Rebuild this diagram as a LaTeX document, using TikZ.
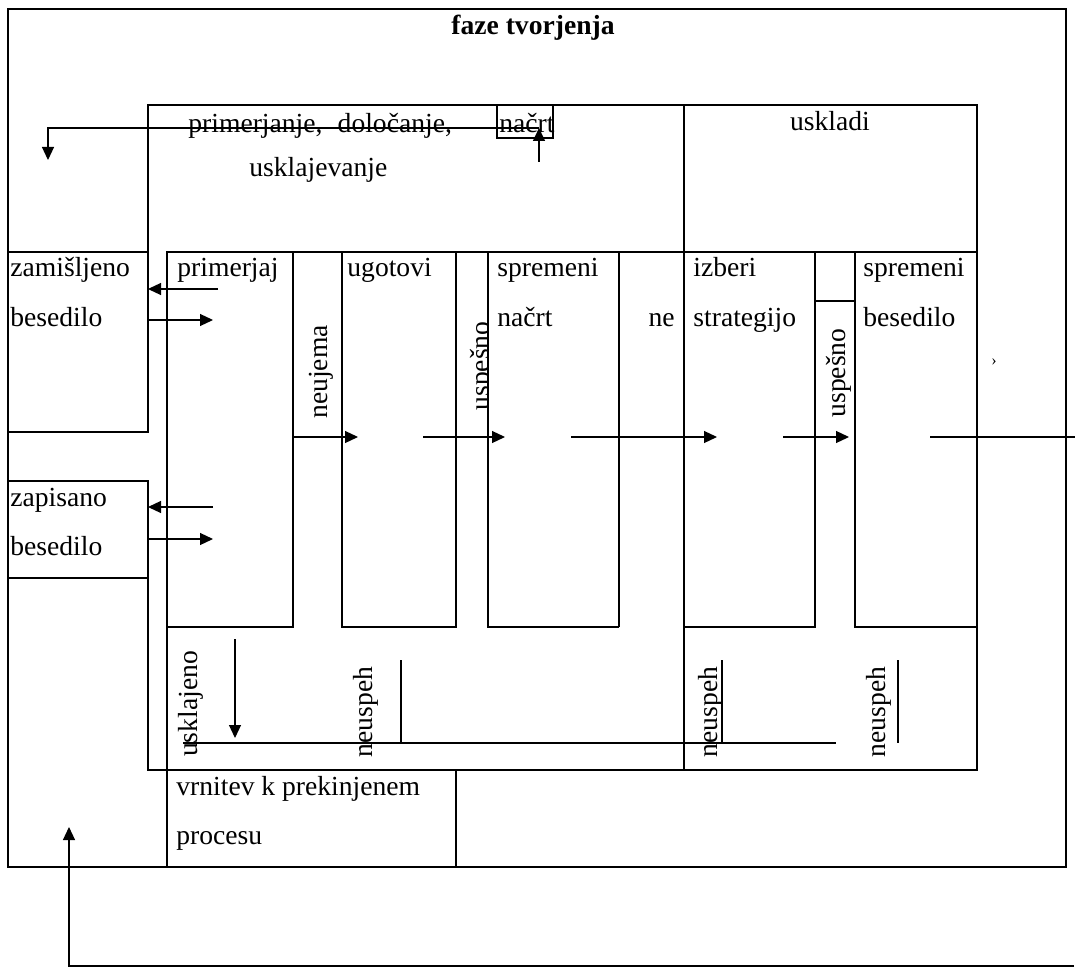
\documentclass[tikz,border=0pt]{standalone}
\usepackage{fontspec}
\setmainfont{Liberation Serif}
\usetikzlibrary{arrows.meta,fit}
\begin{document}
\begin{tikzpicture}[x=0.5pt,y=-0.5pt,
  frame/.style={line width=1pt},
  thinl/.style={line width=0.6pt},
  arr/.style={line width=0.6pt,-{Triangle[length=6.5pt,width=6pt]}},
  txt/.style={inner sep=0pt,anchor=base west,font=\fontsize{13.8}{16}\selectfont},
  vtxt/.style={inner sep=0pt,anchor=base,rotate=90,font=\fontsize{13.8}{16}\selectfont},
  box/.style={draw,line width=1pt,inner sep=0pt}
]
\useasboundingbox (0,0) rectangle (1075,968);

% hidden-under-box label
\node[vtxt] (usp1) at (489,366) {uspešno};
\node[fill=white,inner sep=0pt,fit={(488,252) (619,627)}] (sprn) {};

% outer frame and title
\node[box,fit={(8,9) (1066,867)}] (outer) {};
\node[inner sep=0pt,anchor=base,font=\bfseries\fontsize{13.8}{16}\selectfont] (title) at (533,35) {faze tvorjenja};

% inner frame
\draw[frame] (148,432) -- (148,105) -- (977,105) -- (977,770) -- (148,770) -- (148,481);
\draw[frame] (8,252) -- (148,252);
\draw[frame] (167,252) -- (977,252);
\draw[frame] (684,105) -- (684,770);
\draw[frame] (167,627) -- (167,867);
\draw[frame] (456,770) -- (456,867);
\draw[frame] (815,301) -- (855,301);

% boxes
\node[box,fit={(8,252) (148,432)}] (zam) {};
\node[box,fit={(8,481) (148,578)}] (zap) {};
\node[box,fit={(167,252) (293,627)}] (prim) {};
\node[box,fit={(342,252) (456,627)}] (ugot) {};
\draw[frame] (619,627) -- (488,627) -- (488,252);
\draw[thinl] (619,252) -- (619,627);
\node[box,fit={(684,252) (815,627)}] (izb) {};
\node[box,fit={(855,252) (977,627)}] (sprb) {};
\node[draw,line width=0.8pt,inner sep=0pt,fit={(497,105) (553,138)}] (nbox) {};

% texts
\node[txt] (t1) at (188,133) {primerjanje,\hspace{0.55em}določanje,};
\node[txt] (t2) at (249,177) {usklajevanje};
\node[txt] (t3) at (499,133) {načrt};
\node[txt,anchor=base] (t4) at (830,131) {uskladi};
\node[txt] (t5) at (10,276) {zamišljeno};
\node[txt] (t6) at (10,326) {besedilo};
\node[txt] (t7) at (177,276) {primerjaj};
\node[txt] (t8) at (347,276) {ugotovi};
\node[txt] (t9) at (497,276) {spremeni};
\node[txt] (t10) at (497,326) {načrt};
\node[txt,anchor=base east] (t11) at (675,326) {ne};
\node[txt] (t12) at (693,276) {izberi};
\node[txt] (t13) at (693,326) {strategijo};
\node[txt] (t14) at (863,276) {spremeni};
\node[txt] (t15) at (863,326) {besedilo};
\node[txt] (t16) at (10,506) {zapisano};
\node[txt] (t17) at (10,555) {besedilo};
\node[txt] (t18) at (176,795) {vrnitev k prekinjenem};
\node[txt] (t19) at (176,844) {procesu};
\node[inner sep=0pt,font=\fontsize{8}{8}\selectfont] (mark) at (994,362) {›};

% rotated labels
\node[vtxt] (v1) at (327,372) {neujema};
\node[vtxt] (v2) at (845,373) {uspešno};
\node[vtxt] (v3) at (197,704) {usklajeno};
\node[vtxt] (v4) at (372,712) {neuspeh};
\node[vtxt] (v5) at (717,712) {neuspeh};
\node[vtxt] (v6) at (885,712) {neuspeh};

% connector end points
\coordinate (a1s) at (218,289); \coordinate (a1e) at (148,289);
\coordinate (a2s) at (147,320); \coordinate (a2e) at (213,320);
\coordinate (a3s) at (213,507); \coordinate (a3e) at (148,507);
\coordinate (a4s) at (147,539); \coordinate (a4e) at (213,539);
\coordinate (m1s) at (293,437); \coordinate (m1e) at (358,437);
\coordinate (m2s) at (423,437); \coordinate (m2e) at (505,437);
\coordinate (m3s) at (571,437); \coordinate (m3e) at (717,437);
\coordinate (m4s) at (783,437); \coordinate (m4e) at (849,437);
\coordinate (m5s) at (930,437); \coordinate (m5e) at (1075,437);
\coordinate (up1s) at (539,162); \coordinate (up1e) at (539,128);
\coordinate (tl0) at (539,128); \coordinate (tl1) at (48,128); \coordinate (tl2) at (48,160);
\coordinate (dn1s) at (235,639); \coordinate (dn1e) at (235,738);
\coordinate (h1s) at (183,743); \coordinate (h1e) at (836,743);
\coordinate (n1s) at (401,660); \coordinate (n1e) at (401,743);
\coordinate (n2s) at (722,660); \coordinate (n2e) at (722,743);
\coordinate (n3s) at (898,660); \coordinate (n3e) at (898,743);
\coordinate (b0) at (1074,966); \coordinate (b1) at (69,966); \coordinate (b2) at (69,827);

% connectors
\draw[arr] (a1s) -- (a1e);
\draw[arr] (a2s) -- (a2e);
\draw[arr] (a3s) -- (a3e);
\draw[arr] (a4s) -- (a4e);
\draw[arr] (m1s) -- (m1e);
\draw[arr] (m2s) -- (m2e);
\draw[arr] (m3s) -- (m3e);
\draw[arr] (m4s) -- (m4e);
\draw[thinl] (m5s) -- (m5e);
\draw[arr] (up1s) -- (up1e);
\draw[arr] (tl0) -- (tl1) -- (tl2);
\draw[arr] (dn1s) -- (dn1e);
\draw[thinl] (h1s) -- (h1e);
\draw[thinl] (n1s) -- (n1e);
\draw[thinl] (n2s) -- (n2e);
\draw[thinl] (n3s) -- (n3e);
\draw[arr] (b0) -- (b1) -- (b2);
\end{tikzpicture}
\end{document}
